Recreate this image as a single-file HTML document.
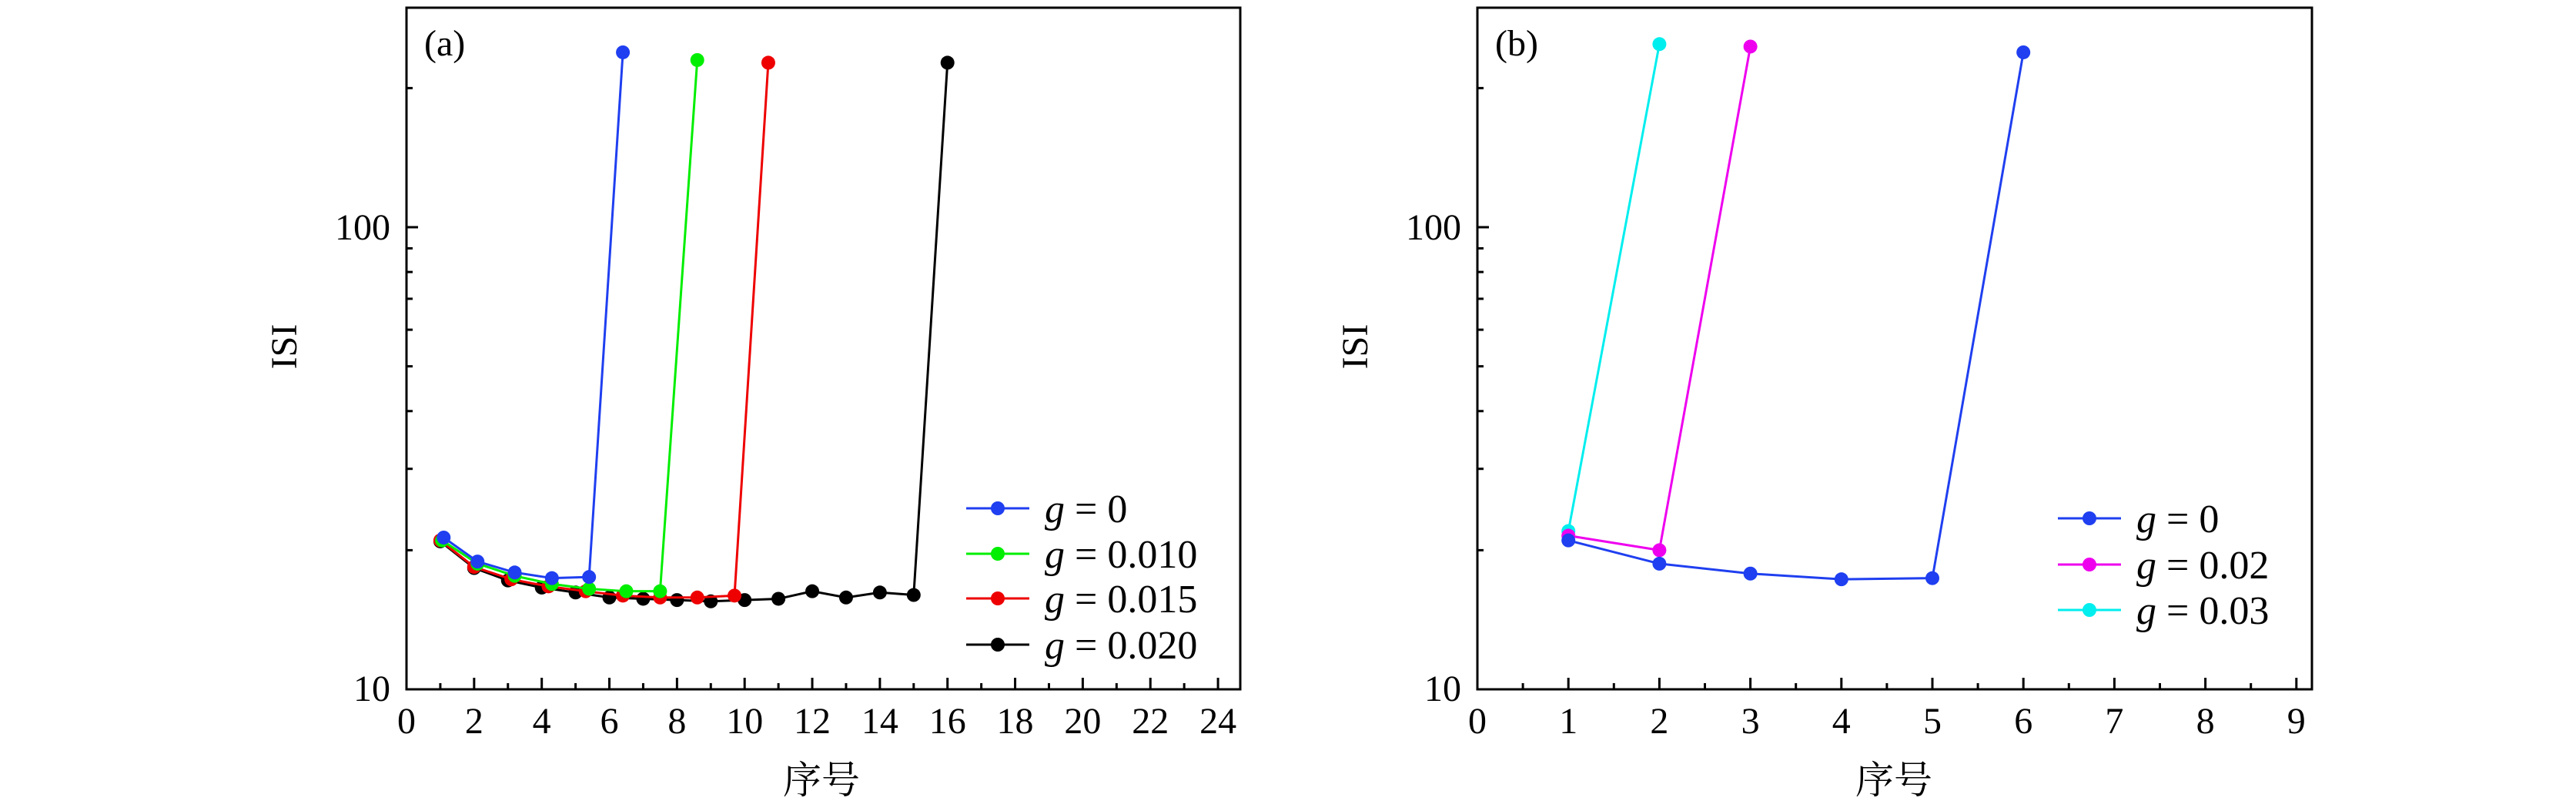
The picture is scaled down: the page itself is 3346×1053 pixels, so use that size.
<!DOCTYPE html>
<html><head><meta charset="utf-8">
<style>
html,body{margin:0;padding:0;background:#fff;}
svg{display:block;font-family:"Liberation Serif","Noto Serif CJK SC",serif;}
</style></head>
<body>
<svg id="chart" width="3346" height="1053" viewBox="0 0 3346 1053" xmlns="http://www.w3.org/2000/svg">
<rect x="0" y="0" width="3346" height="1053" fill="#fff"/>
</svg>
<script>
// Panel (a) data
const aBlueX = [1.1, 2.1, 3.2, 4.3, 5.4, 6.4];
const aBlueY = [21.3, 18.9, 17.9, 17.4, 17.5, 239];
const aGreenX = [1.05, 2.1, 3.2, 4.3, 5.4, 6.5, 7.5, 8.6];
const aGreenY = [21.0, 18.7, 17.6, 16.9, 16.5, 16.3, 16.3, 230];
const aRedX = [1.0, 2.0, 3.1, 4.2, 5.3, 6.4, 7.5, 8.6, 9.7, 10.7];
const aRedY = [21.0, 18.4, 17.3, 16.7, 16.3, 15.95, 15.8, 15.8, 15.95, 227];
const aBlackX = [1, 2, 3, 4, 5, 6, 7, 8, 9, 10, 11, 12, 13, 14, 15, 16];
const aBlackY = [20.9, 18.3, 17.2, 16.6, 16.2, 15.8, 15.7, 15.6, 15.5, 15.6, 15.7, 16.3, 15.8, 16.2, 16.0, 227];
const aXTicks = [0, 2, 4, 6, 8, 10, 12, 14, 16, 18, 20, 22, 24];
const aLegend = ["0", "0.010", "0.015", "0.020"];
// Panel (b) data
const bBlueX = [1, 2, 3, 4, 5, 6];
const bBlueY = [21.0, 18.7, 17.8, 17.3, 17.4, 239];
const bMagX = [1, 2, 3];
const bMagY = [21.5, 20.0, 246];
const bCyanX = [1, 2];
const bCyanY = [22.0, 249];
const bXTicks = [0, 1, 2, 3, 4, 5, 6, 7, 8, 9];
const bLegend = ["0", "0.02", "0.03"];
const yTickLabels = ["10", "100"];
const yTickValues = [10, 100];
const yMinor = [20, 30, 40, 50, 60, 70, 80, 90, 200];

const NS = "http://www.w3.org/2000/svg";
const svg = document.getElementById('chart');
function mk(tag, attrs, parent) {
  const e = document.createElementNS(NS, tag);
  for (const k in attrs) e.setAttribute(k, attrs[k]);
  (parent || svg).appendChild(e);
  return e;
}

function panel(cfg) {
  const g = mk('g', {});
  
  
  const L = cfg.left, R = cfg.right, T = 10, B = 895;
  const xs = v => L + v * cfg.unit;
  const ys = v => B - (Math.log10(v) - 1) * 600;
  cfg.xTicks.forEach(t => {
    const x = xs(t);
    const tk = mk('line', {x1: x, x2: x, y1: B, y2: B - 15, stroke: '#000', 'stroke-width': 3}, g);
    
    
    const lb = mk('text', {x: x, y: 952, 'font-size': 48, 'text-anchor': 'middle'}, g);
    lb.textContent = t;
    
    
  });
  cfg.xMinor.forEach(t => {
    const x = xs(t);
    const tk = mk('line', {x1: x, x2: x, y1: B, y2: B - 8, stroke: '#000', 'stroke-width': 3}, g);
    
    
  });
  yTickValues.forEach((v, i) => {
    const y = ys(v);
    const tk = mk('line', {x1: L, x2: L + 15, y1: y, y2: y, stroke: '#000', 'stroke-width': 3}, g);
    
    
    const lb = mk('text', {x: L - 21, y: v === 10 ? 910 : y + 16, 'font-size': 48, 'text-anchor': 'end'}, g);
    lb.textContent = yTickLabels[i];
    
    
  });
  yMinor.forEach(v => {
    const y = ys(v);
    const tk = mk('line', {x1: L, x2: L + 8, y1: y, y2: y, stroke: '#000', 'stroke-width': 3}, g);
    
    
  });
  // series drawn in reverse so the first legend series is on top
  cfg.series.slice().reverse().forEach(s => {
    const pts = s.x.map((xv, i) => xs(xv) + ',' + ys(s.y[i])).join(' ');
    const pl = mk('polyline', {points: pts, fill: 'none', stroke: s.color, 'stroke-width': 3}, g);
    
    
    s.x.forEach((xv, i) => {
      const c = mk('circle', {cx: xs(xv), cy: ys(s.y[i]), r: 9, fill: s.color}, g);
      
      
    });
  });
  const fr = mk('rect', {x: L, y: T, width: R - L, height: B - T, fill: 'none', stroke: '#000', 'stroke-width': 3}, g);
  
  
  const pl = mk('text', {x: L + 23, y: 72, 'font-size': 48}, g);
  pl.textContent = cfg.label;
  
  
  const xt = mk('text', {x: cfg.xTitleX, y: 1030, 'font-size': 50, 'text-anchor': 'middle'}, g);
  xt.textContent = '序号';
  
  
  const yt = mk('text', {x: 0, y: 0, 'font-size': 48, 'text-anchor': 'middle', transform: 'translate(' + (L - 143) + ',450) rotate(-90)'}, g);
  yt.textContent = 'ISI';
  
  
  cfg.series.forEach((s, i) => {
    const y = cfg.legY[i];
    const le = mk('g', {}, g);
    
    
    mk('line', {x1: cfg.legX, x2: cfg.legX + 82, y1: y, y2: y, stroke: s.color, 'stroke-width': 3}, le);
    mk('circle', {cx: cfg.legX + 41, cy: y, r: 9, fill: s.color}, le);
    const t = mk('text', {x: cfg.legX + 102, y: y + 18, 'font-size': 52, 'font-family': '"Liberation Serif", serif'}, le);
    const gi = mk('tspan', {'font-style': 'italic'}, t);
    gi.textContent = 'g';
    const rest = mk('tspan', {}, t);
    rest.textContent = ' = ' + s.legend;
  });
}

panel({
  name: 'panel-a', label: '(a)', left: 528, right: 1611, unit: 43.92,
  xTicks: aXTicks, xMinor: [1,3,5,7,9,11,13,15,17,19,21,23], xTitleX: 1067,
  legX: 1255, legY: [660, 719, 777, 837],
  series: [
    {name: 'g-0', x: aBlueX, y: aBlueY, color: '#1f3ff0', legend: aLegend[0]},
    {name: 'g-0.010', x: aGreenX, y: aGreenY, color: '#00ee00', legend: aLegend[1]},
    {name: 'g-0.015', x: aRedX, y: aRedY, color: '#ee0000', legend: aLegend[2]},
    {name: 'g-0.020', x: aBlackX, y: aBlackY, color: '#000000', legend: aLegend[3]}
  ]
});
panel({
  name: 'panel-b', label: '(b)', left: 1919, right: 3003, unit: 118.2,
  xTicks: bXTicks, xMinor: [0.5,1.5,2.5,3.5,4.5,5.5,6.5,7.5,8.5], xTitleX: 2460,
  legX: 2673, legY: [673, 733, 792],
  series: [
    {name: 'g-0', x: bBlueX, y: bBlueY, color: '#1f3ff0', legend: bLegend[0]},
    {name: 'g-0.02', x: bMagX, y: bMagY, color: '#ee00ee', legend: bLegend[1]},
    {name: 'g-0.03', x: bCyanX, y: bCyanY, color: '#00eeee', legend: bLegend[2]}
  ]
});
</script>
</body></html>
